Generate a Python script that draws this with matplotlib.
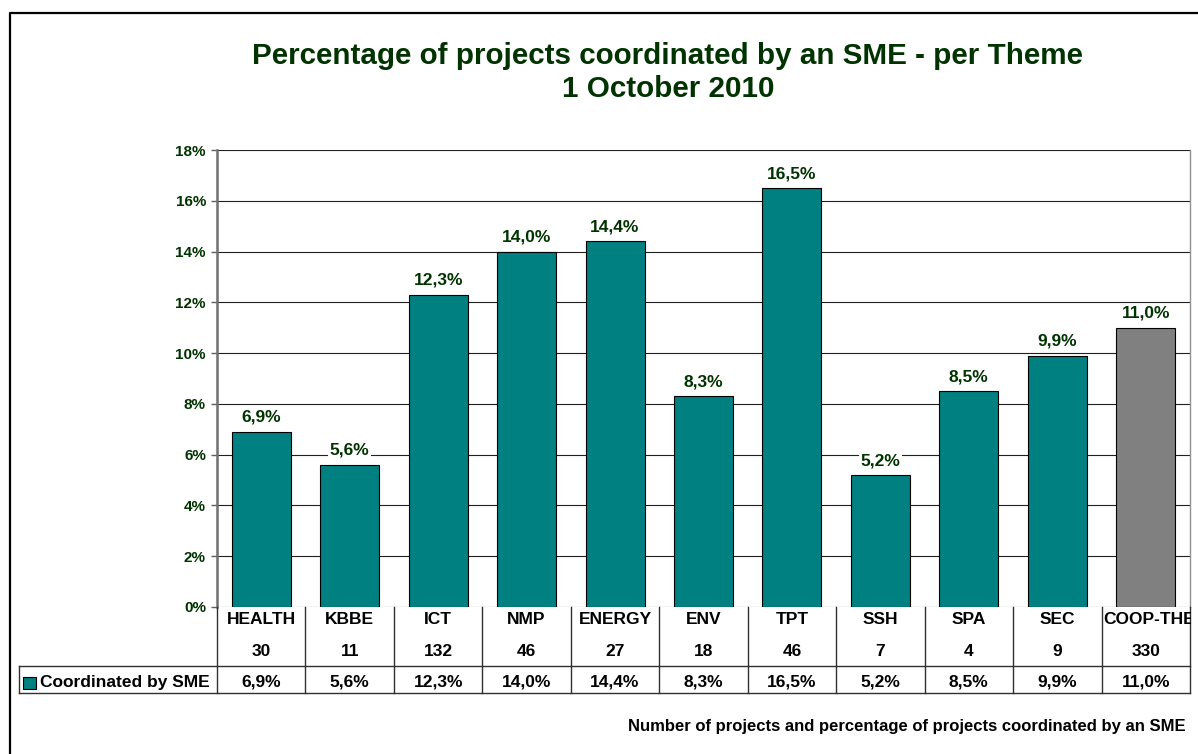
import matplotlib
matplotlib.use('Agg')
import matplotlib.pyplot as plt
from matplotlib.lines import Line2D
from matplotlib.transforms import Bbox, TransformedBbox

plt.rcParams['font.family'] = ['Liberation Sans', 'DejaVu Sans']
plt.rcParams['font.weight'] = 'bold'

# data
themes = ['HEALTH', 'KBBE', 'ICT', 'NMP', 'ENERGY', 'ENV', 'TPT', 'SSH', 'SPA', 'SEC', 'COOP-THEME']
projects = [30, 11, 132, 46, 27, 18, 46, 7, 4, 9, 330]
pct_sme = [6.9, 5.6, 12.3, 14.0, 14.4, 8.3, 16.5, 5.2, 8.5, 9.9, 11.0]
bar_colors = ['#008080'] * 10 + ['#808080']

W, H = 1198, 754
green = '#003300'

def fx(px):
    return px / W

def fy(py):
    return 1 - py / H

fig = plt.figure(figsize=(W / 100, H / 100), dpi=100)
fig.patch.set_facecolor('white')

# outer chart border (left and top only, right side is cut off)
fig.add_artist(Line2D([fx(10), fx(10), 1], [0, fy(13), fy(13)], color='black', lw=1.6))

left, right, top, bottom = 217, 1190, 150, 607
ax = fig.add_axes([fx(left), fy(bottom), fx(right - left), (bottom - top) / H])

x = list(range(len(themes)))
ax.bar(x, pct_sme, width=0.667, color=bar_colors, edgecolor='black', linewidth=0.8, zorder=3)
ax.set_xlim(-0.5, len(themes) - 0.5)
ax.set_ylim(0, 18)
ax.set_yticks(range(0, 19, 2))
ax.set_yticklabels([f'{v}%' for v in range(0, 19, 2)], color=green, fontsize=11, fontweight='bold')
ax.set_xticks([])
ax.yaxis.grid(True, color='#202020', lw=0.8, zorder=0)
ax.tick_params(axis='y', length=4, width=1, color='#606060', pad=4)
for s in ['top', 'bottom']:
    ax.spines[s].set_visible(False)
ax.spines['left'].set_color('#707070')
ax.spines['left'].set_linewidth(1.8)
ax.spines['right'].set_color('#909090')
ax.spines['right'].set_linewidth(1.0)

clip = TransformedBbox(Bbox([[0, 0], [fx(right + 1), 1]]), fig.transFigure)

for i, v in enumerate(pct_sme):
    t = ax.annotate(f'{v:.1f}%'.replace('.', ','), (i, v), xytext=(0, 5), textcoords='offset points',
                    ha='center', va='bottom', color=green, fontsize=12.5, fontweight='bold',
                    bbox=dict(boxstyle='square,pad=0.1', fc='white', ec='none'), zorder=4,
                    annotation_clip=False)
    t.set_clip_box(clip)

# data table below the plot
row_name, row_num, row_pct = 620, 651, 682
line_mid, line_bot = 666, 693
step = (right - left) / len(themes)
fig.add_artist(Line2D([fx(19), fx(right)], [fy(line_mid)] * 2, color='#303030', lw=1))
fig.add_artist(Line2D([fx(19), fx(right)], [fy(line_bot)] * 2, color='#303030', lw=1))
fig.add_artist(Line2D([fx(19), fx(19)], [fy(line_mid), fy(line_bot)], color='#303030', lw=1))
for k in range(len(themes) + 1):
    xp = left + k * step
    fig.add_artist(Line2D([fx(xp)] * 2, [fy(bottom), fy(line_bot)], color='#303030', lw=1))

for i in range(len(themes)):
    xc = fx(left + (i + 0.5) * step)
    for yy, s in [(row_name, themes[i]), (row_num, str(projects[i])),
                  (row_pct, f'{pct_sme[i]:.1f}%'.replace('.', ','))]:
        t = fig.text(xc, fy(yy), s, ha='center', va='center', fontsize=12.5, fontweight='bold', color='black')
        if len(s) > 8:
            # overflowing label starts at the cell edge and gets cut at the frame
            t.set_x(fx(left + i * step + 2))
            t.set_ha('left')
        t.set_clip_box(clip)
        t.set_clip_on(True)

fig.add_artist(plt.Rectangle((fx(23), fy(689)), fx(13), 12 / H, fc='#008080', ec='black', lw=0.8))
fig.text(fx(40), fy(row_pct), 'Coordinated by SME', ha='left', va='center', fontsize=12.5,
         fontweight='bold', color='black')

fig.text(fx(668), fy(56), 'Percentage of projects coordinated by an SME - per Theme',
         ha='center', va='center', fontsize=21.3, fontweight='bold', color=green)
fig.text(fx(668), fy(89), '1 October 2010',
         ha='center', va='center', fontsize=21.3, fontweight='bold', color=green)

fig.text(fx(1186), fy(726), 'Number of projects and percentage of projects coordinated by an SME',
         ha='right', va='center', fontsize=12, fontweight='bold', color='black')

fig.savefig('out.png', dpi=100, facecolor='white')
